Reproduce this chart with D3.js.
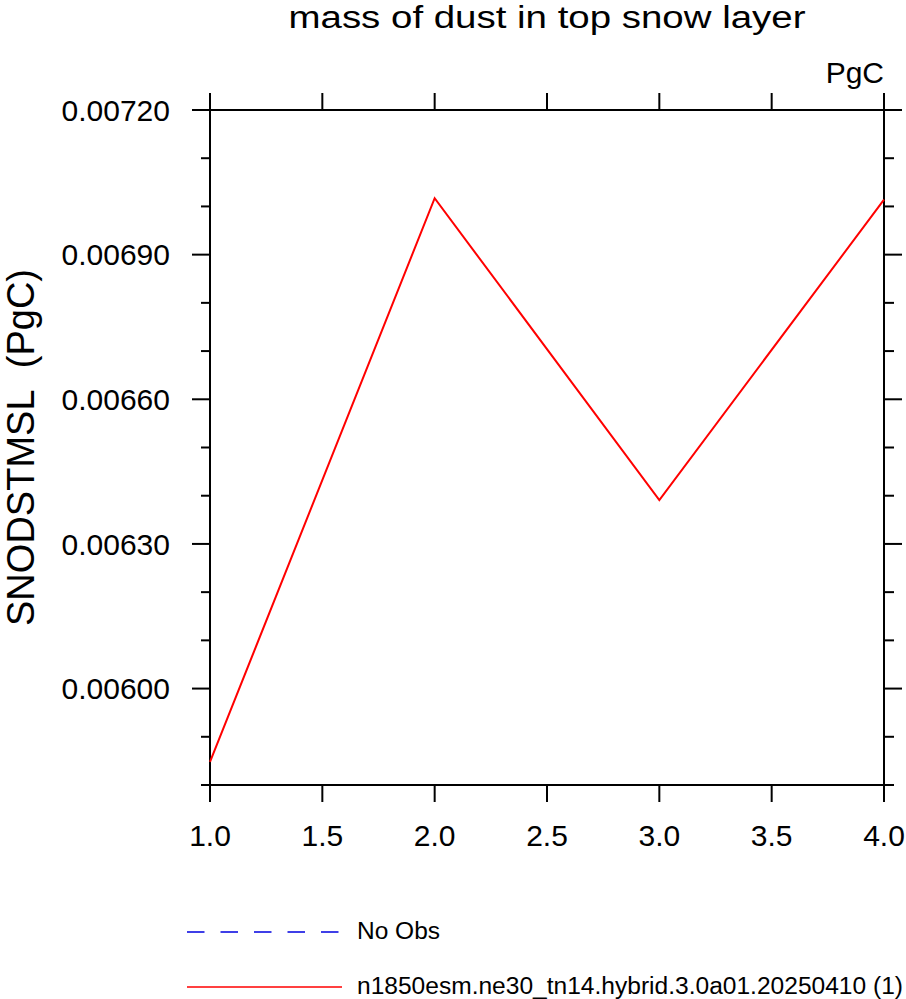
<!DOCTYPE html>
<html>
<head>
<meta charset="utf-8">
<script src="https://cdn.jsdelivr.net/npm/d3@7"></script>
<style>
  body { margin: 0; background: #fff; }
  text { font-family: "Liberation Sans", Helvetica, Arial, sans-serif; fill: #000; }
</style>
</head>
<body>
<div id="chart"></div>
<script>
const xValues = [1, 2, 3, 4];
const dustMass = [0.005848, 0.007017, 0.006391, 0.007014];
const xTicks = [1.0, 1.5, 2.0, 2.5, 3.0, 3.5, 4.0];
const yMajorTicks = [0.0060, 0.0063, 0.0066, 0.0069, 0.0072];
const yMinorTicks = [0.0058, 0.0059, 0.0061, 0.0062, 0.0064, 0.0065, 0.0067, 0.0068, 0.0070, 0.0071];
const legendLabels = ["No Obs", "n1850esm.ne30_tn14.hybrid.3.0a01.20250410 (1)"];

const width = 906;
const height = 999;
const plot = { left: 210, right: 884, top: 110, bottom: 785 };

const svg = d3.select("#chart")
    .append("svg")
    .attr("width", width)
    .attr("height", height);

const x = d3.scaleLinear().domain([1, 4]).range([plot.left, plot.right]);
const y = d3.scaleLinear().domain([0.0058, 0.0072]).range([plot.bottom, plot.top]);

// ticks, all pointing outward
function tickLines(cls, data, x1, y1, x2, y2) {
    svg.selectAll("." + cls)
        .data(data)
        .enter()
        .append("line")
        .attr("class", cls)
        .attr("x1", x1).attr("y1", y1)
        .attr("x2", x2).attr("y2", y2)
        .attr("stroke", "#000")
        .attr("stroke-width", 2);
}
tickLines("ytick-l", yMajorTicks, plot.left - 18, d => y(d), plot.left, d => y(d));
tickLines("ytick-r", yMajorTicks, plot.right, d => y(d), plot.right + 18, d => y(d));
tickLines("yminor-l", yMinorTicks, plot.left - 9, d => y(d), plot.left, d => y(d));
tickLines("yminor-r", yMinorTicks, plot.right, d => y(d), plot.right + 10, d => y(d));
tickLines("xtick-b", xTicks, d => x(d), plot.bottom, d => x(d), plot.bottom + 17);
tickLines("xtick-t", xTicks, d => x(d), plot.top - 17, d => x(d), plot.top);

// frame
svg.append("rect")
    .attr("x", plot.left)
    .attr("y", plot.top)
    .attr("width", plot.right - plot.left)
    .attr("height", plot.bottom - plot.top)
    .attr("fill", "none")
    .attr("stroke", "#000")
    .attr("stroke-width", 2);

// tick labels
svg.selectAll(".ylabel")
    .data(yMajorTicks)
    .enter()
    .append("text")
    .attr("x", 170)
    .attr("y", d => y(d))
    .attr("dy", "0.36em")
    .attr("text-anchor", "end")
    .attr("font-size", "30px")
    .text(d => d.toFixed(5));

svg.selectAll(".xlabel")
    .data(xTicks)
    .enter()
    .append("text")
    .attr("x", d => x(d))
    .attr("y", 846)
    .attr("text-anchor", "middle")
    .attr("font-size", "30px")
    .text(d => d.toFixed(1));

// data line
const line = d3.line()
    .x((d, i) => x(xValues[i]))
    .y(d => y(d));

svg.append("path")
    .datum(dustMass)
    .attr("d", line)
    .attr("fill", "none")
    .attr("stroke", "#ff0000")
    .attr("stroke-width", 2);

// titles
svg.append("text")
    .attr("x", (plot.left + plot.right) / 2)
    .attr("y", 28)
    .attr("text-anchor", "middle")
    .attr("font-size", "31px")
    .attr("textLength", 517)
    .attr("lengthAdjust", "spacingAndGlyphs")
    .text("mass of dust in top snow layer");

svg.append("text")
    .attr("x", plot.right)
    .attr("y", 83)
    .attr("text-anchor", "end")
    .attr("font-size", "30px")
    .text("PgC");

svg.append("text")
    .attr("transform", `translate(34,${(plot.top + plot.bottom) / 2}) rotate(-90)`)
    .attr("text-anchor", "middle")
    .attr("font-size", "38px")
    .attr("textLength", 357)
    .attr("lengthAdjust", "spacingAndGlyphs")
    .text("SNODSTMSL\u00a0\u00a0(PgC)");

// legend
svg.append("line")
    .attr("x1", 187).attr("x2", 340)
    .attr("y1", 932).attr("y2", 932)
    .attr("stroke", "#0000e0")
    .attr("stroke-width", 1.6)
    .attr("stroke-dasharray", "17.5,16");

svg.append("line")
    .attr("x1", 187).attr("x2", 342)
    .attr("y1", 987).attr("y2", 987)
    .attr("stroke", "#ff0000")
    .attr("stroke-width", 1.5);

svg.append("text")
    .attr("x", 357)
    .attr("y", 939)
    .attr("font-size", "23px")
    .attr("textLength", 83)
    .attr("lengthAdjust", "spacingAndGlyphs")
    .text(legendLabels[0]);

svg.append("text")
    .attr("x", 357)
    .attr("y", 994)
    .attr("font-size", "23px")
    .attr("textLength", 546)
    .attr("lengthAdjust", "spacingAndGlyphs")
    .text(legendLabels[1]);
</script>
</body>
</html>
